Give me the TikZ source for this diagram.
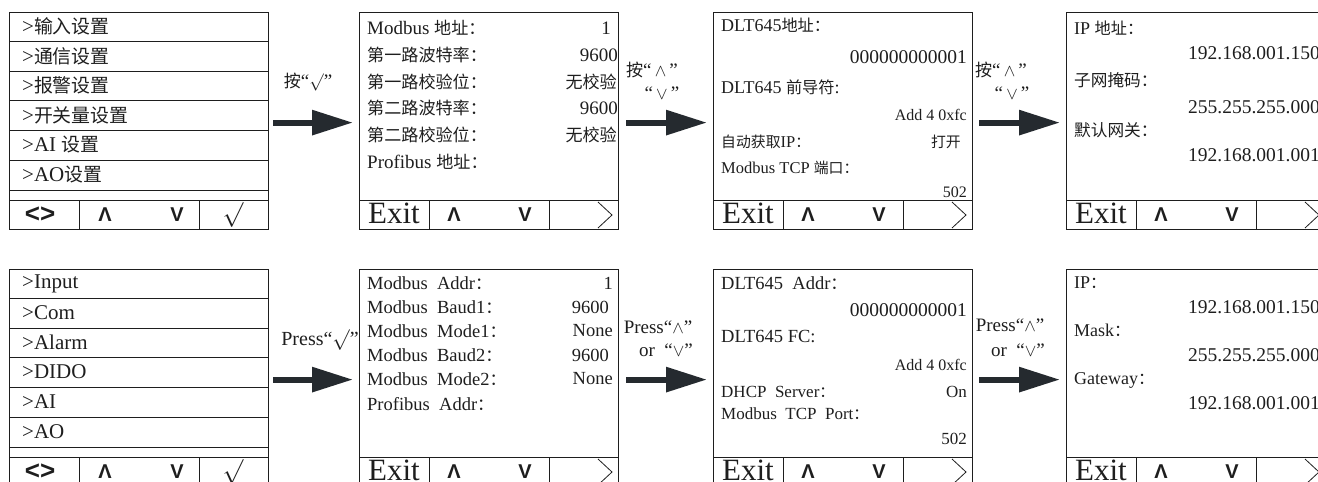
\documentclass[tikz,border=0pt]{standalone}
\usepackage{fontspec}
\setmainfont{Liberation Serif}
\newfontfamily\cjkf{Noto Sans CJK SC}[Scale=0.9]
\newfontfamily\sansf{Liberation Sans}
\usetikzlibrary{arrows.meta}
\definecolor{ink}{HTML}{1E1E1E}
\definecolor{arr}{HTML}{252A2F}
\newcommand\zh[1]{{\cjkf #1}}
\newcommand\fs[1]{\fontsize{#1}{#1}\selectfont}
\newcommand\lcdbar{\draw[divln] (0,188) -- (259,188) (70,188) -- (70,217) (190,188) -- (190,217);}
\newcommand\upk{$\wedge$}
\newcommand\dnk{$\vee$}
\begin{document}
\begin{tikzpicture}[x=1pt,y=-1pt,
  lcd/.style={draw=ink,line width=1.2pt,minimum width=259pt,minimum height=217pt,inner sep=0pt,anchor=north west},
  divln/.style={draw=ink,line width=1pt},
  lefttxt/.style={anchor=west,inner sep=0pt,text=ink},
  righttxt/.style={anchor=east,inner sep=0pt,text=ink},
  btn/.style={inner sep=0pt,text=ink,font=\sansf\bfseries\fs{20}},
  exitk/.style={inner sep=0pt,text=ink,font=\fs{31}},
  lbl/.style={inner sep=0pt,text=ink},
  chev/.style={draw=ink,line width=0.8pt},
  bigarrow/.style={draw=arr,line width=6pt,-{Triangle[length=41pt,width=24pt]}}
]
\useasboundingbox (0,0) rectangle (1318,482);
\clip (0,0) rectangle (1318,482);

% ================= TOP ROW =================
\begin{scope}[shift={(9,12)}]
  \node[lcd] (p1t) at (0,0) {};
  \foreach \yy in {29.5,59,88.5,118,148,178} \draw[divln] (0,\yy) -- (259,\yy);
  \lcdbar
  \node[lefttxt,font=\fs{21}] (m1t) at (13,14.5) {>\zh{输入设置}};
  \node[lefttxt,font=\fs{21}] (m2t) at (13,44) {>\zh{通信设置}};
  \node[lefttxt,font=\fs{21}] (m3t) at (13,73.5) {>\zh{报警设置}};
  \node[lefttxt,font=\fs{21}] (m4t) at (13,103) {>\zh{开关量设置}};
  \node[lefttxt,font=\fs{21}] (m5t) at (13,133) {>AI \zh{设置}};
  \node[lefttxt,font=\fs{21}] (m6t) at (13,163) {>AO\zh{设置}};
  \node[btn,font=\sansf\bfseries\fs{26}] (k1t) at (31,202.5) {<>};
  \node[btn] (k2t) at (96,203) {Λ};
  \node[btn] (k3t) at (168,203) {V};
  \node[btn,font=\fs{27}] (k4t) at (224,202.5) {$\surd$};
\end{scope}

\begin{scope}[shift={(359,12)}]
  \node[lcd] (p2t) at (0,0) {};
  \lcdbar
  \node[lefttxt,font=\fs{19}] (b1t) at (8,16) {Modbus \zh{地址：}};
  \node[righttxt,font=\fs{19}] (b1tv) at (252,16) {1};
  \node[lefttxt,font=\fs{19}] (b2t) at (8,43) {\zh{第一路波特率：}};
  \node[righttxt,font=\fs{19}] (b2tv) at (259,43) {9600};
  \node[lefttxt,font=\fs{19}] (b3t) at (8,70) {\zh{第一路校验位：}};
  \node[righttxt,font=\fs{19}] (b3tv) at (258,70) {\zh{无校验}};
  \node[lefttxt,font=\fs{19}] (b4t) at (8,96) {\zh{第二路波特率：}};
  \node[righttxt,font=\fs{19}] (b4tv) at (259,96) {9600};
  \node[lefttxt,font=\fs{19}] (b5t) at (8,123) {\zh{第二路校验位：}};
  \node[righttxt,font=\fs{19}] (b5tv) at (258,123) {\zh{无校验}};
  \node[lefttxt,font=\fs{19}] (b6t) at (8,150) {Profibus \zh{地址：}};
  \node[exitk] (e2t) at (35,201) {Exit};
  \node[btn] (u2t) at (95,203) {Λ};
  \node[btn] (d2t) at (166,203) {V};
  \draw[chev] (239,190) -- (253,203) -- (239,216);
\end{scope}

\begin{scope}[shift={(713,12)}]
  \node[lcd] (p3t) at (0,0) {};
  \lcdbar
  \node[lefttxt,font=\fs{18}] (c1t) at (8,13) {DLT645\zh{地址：}};
  \node[righttxt,font=\fs{19.5}] (c2t) at (254,45) {000000000001};
  \node[lefttxt,font=\fs{18}] (c3t) at (8,75) {DLT645 \zh{前导符}:};
  \node[righttxt,font=\fs{16}] (c4t) at (254,103) {Add 4 0xfc};
  \node[lefttxt,font=\fs{16.5}] (c5t) at (8,130) {\zh{自动获取}IP\zh{：}};
  \node[righttxt,font=\fs{16.5}] (c5tv) at (248,130) {\zh{打开}};
  \node[lefttxt,font=\fs{16.5}] (c6t) at (8,156) {Modbus TCP \zh{端口：}};
  \node[righttxt,font=\fs{16}] (c7t) at (254,180) {502};
  \node[exitk] (e3t) at (35,201) {Exit};
  \node[btn] (u3t) at (95,203) {Λ};
  \node[btn] (d3t) at (166,203) {V};
  \draw[chev] (239,190) -- (253,203) -- (239,216);
\end{scope}

\begin{scope}[shift={(1066,12)}]
  \node[lcd] (p4t) at (0,0) {};
  \lcdbar
  \node[lefttxt,font=\fs{18}] (f1t) at (8,16) {IP \zh{地址：}};
  \node[lefttxt,font=\fs{19.5}] (f2t) at (122,41) {192.168.001.150};
  \node[lefttxt,font=\fs{18.5}] (f3t) at (8,68) {\zh{子网掩码：}};
  \node[lefttxt,font=\fs{19.5}] (f4t) at (122,95) {255.255.255.000};
  \node[lefttxt,font=\fs{18.5}] (f5t) at (8,118) {\zh{默认网关：}};
  \node[lefttxt,font=\fs{19.5}] (f6t) at (122,143) {192.168.001.001};
  \node[exitk] (e4t) at (35,201) {Exit};
  \node[btn] (u4t) at (95,203) {Λ};
  \node[btn] (d4t) at (166,203) {V};
  \draw[chev] (239,190) -- (253,203) -- (239,216);
\end{scope}

% ================= BOTTOM ROW =================
\begin{scope}[shift={(9,269)}]
  \node[lcd] (p1b) at (0,0) {};
  \foreach \yy in {29.5,59,88.5,118,148,178} \draw[divln] (0,\yy) -- (259,\yy);
  \lcdbar
  \node[lefttxt,font=\fs{21}] (m1b) at (13,14.5) {>Input};
  \node[lefttxt,font=\fs{21}] (m2b) at (13,44) {>Com};
  \node[lefttxt,font=\fs{21}] (m3b) at (13,73.5) {>Alarm};
  \node[lefttxt,font=\fs{21}] (m4b) at (13,103) {>DIDO};
  \node[lefttxt,font=\fs{21}] (m5b) at (13,133) {>AI};
  \node[lefttxt,font=\fs{21}] (m6b) at (13,163) {>AO};
  \node[btn,font=\sansf\bfseries\fs{26}] (k1b) at (31,202.5) {<>};
  \node[btn] (k2b) at (96,203) {Λ};
  \node[btn] (k3b) at (168,203) {V};
  \node[btn,font=\fs{27}] (k4b) at (224,202.5) {$\surd$};
\end{scope}

\begin{scope}[shift={(359,269)}]
  \node[lcd] (p2b) at (0,0) {};
  \lcdbar
  \node[lefttxt,font=\fs{18.5}] (b1b) at (8,14) {Modbus\ \ Addr\zh{：}};
  \node[righttxt,font=\fs{18.5}] (b1bv) at (254,14) {1};
  \node[lefttxt,font=\fs{18.5}] (b2b) at (8,38) {Modbus\ \ Baud1\zh{：}};
  \node[righttxt,font=\fs{18.5}] (b2bv) at (250,38) {9600};
  \node[lefttxt,font=\fs{18.5}] (b3b) at (8,62) {Modbus\ \ Mode1\zh{：}};
  \node[righttxt,font=\fs{18.5}] (b3bv) at (254,62) {None};
  \node[lefttxt,font=\fs{18.5}] (b4b) at (8,86) {Modbus\ \ Baud2\zh{：}};
  \node[righttxt,font=\fs{18.5}] (b4bv) at (250,86) {9600};
  \node[lefttxt,font=\fs{18.5}] (b5b) at (8,110) {Modbus\ \ Mode2\zh{：}};
  \node[righttxt,font=\fs{18.5}] (b5bv) at (254,110) {None};
  \node[lefttxt,font=\fs{18.5}] (b6b) at (8,135) {Profibus\ \ Addr\zh{：}};
  \node[exitk] (e2b) at (35,201) {Exit};
  \node[btn] (u2b) at (95,203) {Λ};
  \node[btn] (d2b) at (166,203) {V};
  \draw[chev] (239,190) -- (253,203) -- (239,216);
\end{scope}

\begin{scope}[shift={(713,269)}]
  \node[lcd] (p3b) at (0,0) {};
  \lcdbar
  \node[lefttxt,font=\fs{18.5}] (c1b) at (8,14) {DLT645\ \ Addr\zh{：}};
  \node[righttxt,font=\fs{19.5}] (c2b) at (254,41) {000000000001};
  \node[lefttxt,font=\fs{18.5}] (c3b) at (8,68) {DLT645 FC:};
  \node[righttxt,font=\fs{16}] (c4b) at (254,96) {Add 4 0xfc};
  \node[lefttxt,font=\fs{17}] (c5b) at (8,123) {DHCP\ \ Server\zh{：}};
  \node[righttxt,font=\fs{17}] (c5bv) at (254,123) {On};
  \node[lefttxt,font=\fs{17}] (c6b) at (8,145) {Modbus\ \ TCP\ \ Port\zh{：}};
  \node[righttxt,font=\fs{17}] (c7b) at (254,170) {502};
  \node[exitk] (e3b) at (35,201) {Exit};
  \node[btn] (u3b) at (95,203) {Λ};
  \node[btn] (d3b) at (166,203) {V};
  \draw[chev] (239,190) -- (253,203) -- (239,216);
\end{scope}

\begin{scope}[shift={(1066,269)}]
  \node[lcd] (p4b) at (0,0) {};
  \lcdbar
  \node[lefttxt,font=\fs{18}] (f1b) at (8,14) {IP\zh{：}};
  \node[lefttxt,font=\fs{19.5}] (f2b) at (122,38) {192.168.001.150};
  \node[lefttxt,font=\fs{18}] (f3b) at (8,61) {Mask\zh{：}};
  \node[lefttxt,font=\fs{19.5}] (f4b) at (122,86) {255.255.255.000};
  \node[lefttxt,font=\fs{18}] (f5b) at (8,111) {Gateway\zh{：}};
  \node[lefttxt,font=\fs{19.5}] (f6b) at (122,134) {192.168.001.001};
  \node[exitk] (e4b) at (35,201) {Exit};
  \node[btn] (u4b) at (95,203) {Λ};
  \node[btn] (d4b) at (166,203) {V};
  \draw[chev] (239,190) -- (253,203) -- (239,216);
\end{scope}

% ================= LABELS =================
\node[lbl,font=\fs{19}] (l1t) at (308,82) {\zh{按}“$\surd$”};
\node[lbl,font=\fs{19}] (l2t) at (652,70) {\zh{按}“\,\upk\,”};
\node[lbl,font=\fs{19}] (l2tb) at (662,93) {“\,\dnk\,”};
\node[lbl,font=\fs{19}] (l3t) at (1001,70) {\zh{按}“\,\upk\,”};
\node[lbl,font=\fs{19}] (l3tb) at (1012,93) {“\,\dnk\,”};
\node[lbl,font=\fs{20}] (l1b) at (320,340) {Press“$\surd$”};
\node[lbl,font=\fs{19}] (l2b) at (658,327) {Press“\upk”};
\node[lbl,font=\fs{19}] (l2bb) at (666,350) {or\ \ “\dnk”};
\node[lbl,font=\fs{19}] (l3b) at (1010,325) {Press“\upk”};
\node[lbl,font=\fs{19}] (l3bb) at (1018,350) {or\ \ “\dnk”};

% ================= ARROWS =================
\draw[bigarrow] ([xshift=4pt,yshift=-1.5pt]p1t.east) -- ([xshift=-6pt,yshift=-1.5pt]p2t.west);
\draw[bigarrow] ([xshift=7pt,yshift=-1.5pt]p2t.east) -- ([xshift=-6pt,yshift=-1.5pt]p3t.west);
\draw[bigarrow] ([xshift=6pt,yshift=-1.5pt]p3t.east) -- ([xshift=-6pt,yshift=-1.5pt]p4t.west);
\draw[bigarrow] ([xshift=4pt,yshift=-1.5pt]p1b.east) -- ([xshift=-6pt,yshift=-1.5pt]p2b.west);
\draw[bigarrow] ([xshift=7pt,yshift=-1.5pt]p2b.east) -- ([xshift=-6pt,yshift=-1.5pt]p3b.west);
\draw[bigarrow] ([xshift=6pt,yshift=-1.5pt]p3b.east) -- ([xshift=-6pt,yshift=-1.5pt]p4b.west);
\end{tikzpicture}
\end{document}
